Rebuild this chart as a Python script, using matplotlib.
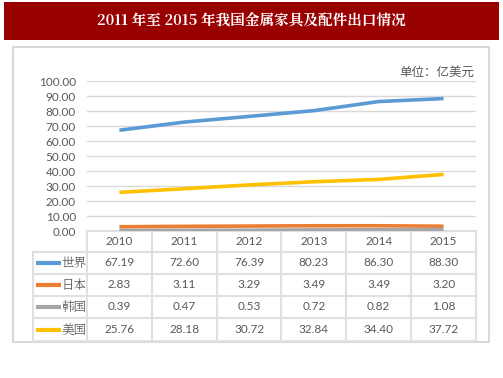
import matplotlib
matplotlib.use("Agg")
import matplotlib.pyplot as plt
from matplotlib.patches import Rectangle

years = ["2010", "2011", "2012", "2013", "2014", "2015"]
series_names = ["世界", "日本", "韩国", "美国"]
world = [67.19, 72.60, 76.39, 80.23, 86.30, 88.30]
japan = [2.83, 3.11, 3.29, 3.49, 3.49, 3.20]
korea = [0.39, 0.47, 0.53, 0.72, 0.82, 1.08]
usa = [25.76, 28.18, 30.72, 32.84, 34.40, 37.72]
yticks = [0, 10, 20, 30, 40, 50, 60, 70, 80, 90, 100]
title = "2011 年至 2015 年我国金属家具及配件出口情况"
unit = "单位：亿美元"

series = [world, japan, korea, usa]
colors = ["#5B9BD5", "#ED7D31", "#A5A5A5", "#FFC000"]

W, H = 503, 378
fig = plt.figure(figsize=(W / 100, H / 100), dpi=100)
fig.patch.set_facecolor("white")

cjk = ["Noto Sans CJK SC", "DejaVu Sans"]
num_font = ["Lato", "DejaVu Sans"]
txt_gray = "#595959"
grid_c = "#D9D9D9"

# overlay axes in pixel coords
ov = fig.add_axes([0, 0, 1, 1], zorder=0)
ov.set_xlim(0, W)
ov.set_ylim(H, 0)
ov.axis("off")

# title bar
ov.add_patch(Rectangle((4, 2), 495, 38, facecolor="#990000", edgecolor="none"))
ov.text(251, 21, title, color="white", fontsize=10.5, fontweight="bold",
        family=["Noto Serif CJK SC", "Noto Sans CJK SC", "DejaVu Sans"],
        ha="center", va="center")

# chart box
ov.add_patch(Rectangle((13, 47), 476, 295, facecolor="white", edgecolor="#D9D9D9", linewidth=1.5))

# unit label
ov.text(474, 72, unit, color=txt_gray, fontsize=9, family=cjk, ha="right", va="center")

# plot axes
L, R, T, B = 87, 476, 81, 231
ax = fig.add_axes([L / W, 1 - B / H, (R - L) / W, (B - T) / H], zorder=2)
ax.patch.set_alpha(0)
x = list(range(len(years)))
for s, c in zip(series, colors):
    ax.plot(x, s, color=c, linewidth=2.6, solid_capstyle="butt")
ax.set_xlim(-0.5, len(years) - 0.5)
ax.set_ylim(0, 100)
ax.set_yticks(yticks)
ax.set_yticklabels([f"{v:.2f}" for v in yticks], color=txt_gray, fontsize=8.5, family=num_font)
ax.tick_params(axis="y", length=0, pad=8)
ax.tick_params(axis="x", length=0, labelbottom=False)
ax.grid(axis="y", color=grid_c, linewidth=1)
ax.set_axisbelow(True)
for sp in ax.spines.values():
    sp.set_visible(False)

# table
col_w = (R - L) / len(years)
row_top = [231, 252, 274, 296, 318]
row_bot = 341
tl_kw = dict(color="#E0E0E0", linewidth=1.5)
ov.plot([L, R], [231, 231], **tl_kw)
for yy in row_top[1:] + [row_bot]:
    ov.plot([33, R], [yy, yy], **tl_kw)
ov.plot([33, 33], [252, row_bot], **tl_kw)
for i in range(len(years) + 1):
    xx = L + i * col_w
    ov.plot([xx, xx], [231, row_bot], **tl_kw)

for i, yr in enumerate(years):
    ov.text(L + (i + 0.5) * col_w, (231 + 252) / 2, yr, color=txt_gray, fontsize=8.5,
            family=num_font, ha="center", va="center")

for r, (name, s, c) in enumerate(zip(series_names, series, colors)):
    yc = (row_top[r + 1] + (row_top[r + 2] if r + 2 < len(row_top) else row_bot)) / 2
    ov.plot([36, 61], [yc, yc], color=c, linewidth=3, solid_capstyle="butt")
    ov.text(74, yc, name, color=txt_gray, fontsize=9,
            family=["Noto Serif CJK SC", "Noto Sans CJK SC", "DejaVu Sans"],
            ha="center", va="center")
    for i, v in enumerate(s):
        ov.text(L + (i + 0.5) * col_w, yc, f"{v:.2f}", color=txt_gray, fontsize=8.5,
                family=num_font, ha="center", va="center")

fig.savefig("out.png", dpi=100, facecolor="white")
